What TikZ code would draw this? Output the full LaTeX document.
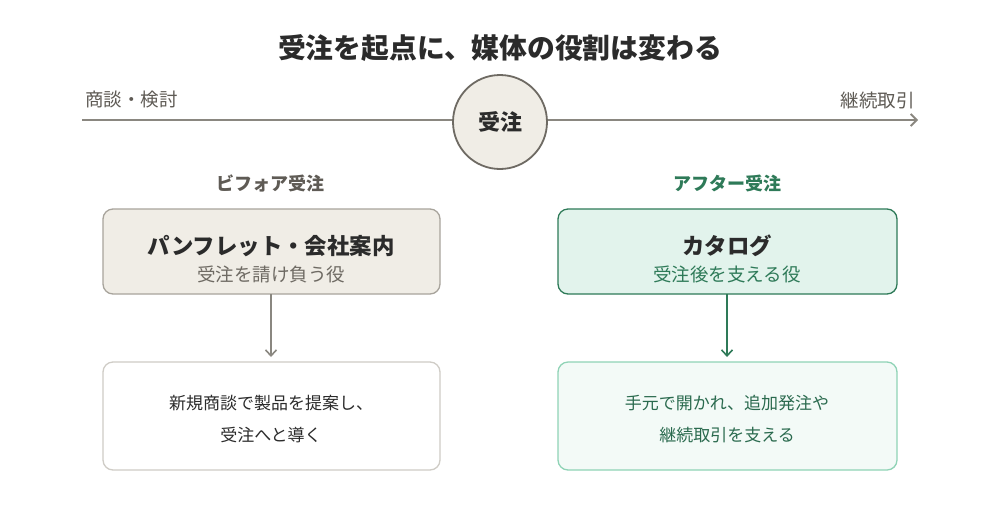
\documentclass[tikz,border=0pt]{standalone}
\usepackage{fontspec}
\setmainfont{Noto Sans CJK JP}
\usetikzlibrary{arrows.meta}
\definecolor{gline}{HTML}{8A8780}
\definecolor{beigefill}{HTML}{F0EDE6}
\definecolor{beigedraw}{HTML}{A8A49C}
\definecolor{circdraw}{HTML}{6E6A63}
\definecolor{graytext}{HTML}{5F5B55}
\definecolor{subgray}{HTML}{6E6A63}
\definecolor{dark}{HTML}{2B2B2B}
\definecolor{lightdraw}{HTML}{CFCCC6}
\definecolor{green}{HTML}{2E7A58}
\definecolor{greenfill}{HTML}{E2F3EC}
\definecolor{lgreenfill}{HTML}{F3FAF7}
\definecolor{lgreendraw}{HTML}{8FD3B6}
\definecolor{greentext}{HTML}{2A6A4E}
\tikzset{
  x=1pt, y=-1pt,
  box/.style={rounded corners=10pt, line width=1.3pt},
  conn/.style={line width=1.6pt, -{Straight Barb[length=6pt,width=11pt]}},
  lab/.style={inner sep=0pt, font=\fontsize{17}{20}\selectfont},
  sub/.style={inner sep=0pt, font=\fontsize{18.5}{22}\selectfont},
  btitle/.style={inner sep=0pt, text=dark, font=\fontsize{22.4}{26}\selectfont\bfseries},
  head/.style={inner sep=0pt, font=\fontsize{18}{21}\selectfont\bfseries},
}
\begin{document}
\begin{tikzpicture}
\useasboundingbox[fill=white] (0,0) rectangle (1000,515);
% title
\node[inner sep=0pt, text=dark, font=\fontsize{27.8}{32}\selectfont\bfseries] (title) at (500,48) {受注を起点に、媒体の役割は変わる};
% timeline
\coordinate (tl) at (82,120);
\coordinate (tr) at (918,120);
\draw[gline, line width=1.8pt, -{Straight Barb[length=6pt,width=12pt]}] (tl) -- (tr);
\node[circle, minimum size=94pt, fill=beigefill, draw=circdraw, line width=1.8pt, inner sep=0pt, text=dark, font=\fontsize{22}{26}\selectfont\bfseries] (order) at (500,122) {受注};
\node[sub, anchor=west, text=graytext] (pre) at (85,100) {商談・検討};
\node[sub, anchor=east, text=graytext] (post) at (915,100) {継続取引};
% headings
\node[head, text=graytext] (hb) at (270,183) {ビフォア受注};
\node[head, text=green] (ha) at (727,183) {アフター受注};
% left column
\draw[box, fill=beigefill, draw=beigedraw] (103,209) rectangle (440,294);
\coordinate (lbt) at (271,294);
\node[btitle] (lt1) at (271,246) {パンフレット・会社案内};
\node[sub, text=subgray] (lt2) at (271,274) {受注を請け負う役};
\draw[box, fill=white, draw=lightdraw] (103,362) rectangle (440,470);
\coordinate (lbb) at (271,357);
\node[lab, text=dark] (lb1) at (271,403) {新規商談で製品を提案し、};
\node[lab, text=dark] (lb2) at (271,435) {受注へと導く};
\draw[conn, gline] (lbt) -- (lbb);
% right column
\draw[box, fill=greenfill, draw=green] (558,209) rectangle (897,294);
\coordinate (rbt) at (727,294);
\node[btitle] (rt1) at (727,246) {カタログ};
\node[sub, text=green] (rt2) at (727,274) {受注後を支える役};
\draw[box, fill=lgreenfill, draw=lgreendraw] (558,362) rectangle (897,470);
\coordinate (rbb) at (727,357);
\node[lab, text=greentext] (rb1) at (727,403) {手元で開かれ、追加発注や};
\node[lab, text=greentext] (rb2) at (727,435) {継続取引を支える};
\draw[conn, green] (rbt) -- (rbb);
\end{tikzpicture}
\end{document}
